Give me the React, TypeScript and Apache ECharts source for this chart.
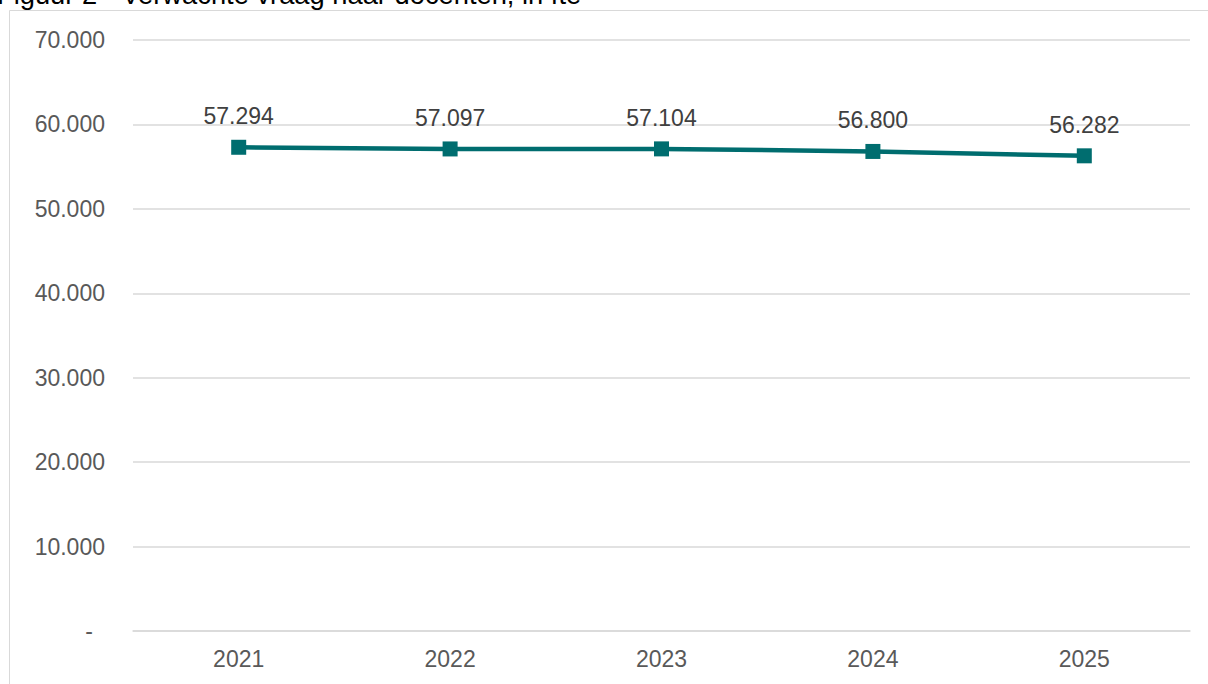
import React, { useEffect, useRef } from "react";
import * as echarts from "echarts";

const title = "Figuur 2 - Verwachte vraag naar docenten, in fte";
const years = ["2021", "2022", "2023", "2024", "2025"];
const demand = [57294, 57097, 57104, 56800, 56282];

const fmt = (v: number) =>
  v === 0 ? "-" : Math.round(v).toString().replace(/\B(?=(\d{3})+(?!\d))/g, ".");

export default function App() {
  const ref = useRef<HTMLDivElement>(null);
  useEffect(() => {
    document.body.style.margin = "0";
    const chart = echarts.init(ref.current!, null, { renderer: "svg" });
    chart.setOption({
      animation: false,
      textStyle: { fontFamily: "Liberation Sans, Arial, sans-serif" },
      graphic: [
        {
          type: "rect",
          shape: { x: 9.5, y: 10.5, width: 1300, height: 800 },
          style: { fill: "none", stroke: "#d9d9d9", lineWidth: 1 },
          silent: true,
        },
        {
          type: "text",
          x: -3,
          y: -19,
          style: {
            text: title,
            fontSize: 27.3,
            fill: "#000",
            fontFamily: "Liberation Sans, Arial, sans-serif",
          },
        },
      ],
      grid: { left: 133, right: 18, top: 40, bottom: 53, containLabel: false },
      xAxis: {
        type: "category",
        data: years,
        boundaryGap: true,
        axisLine: { show: true, lineStyle: { color: "#d9d9d9", width: 1.5 } },
        axisTick: { show: false },
        axisLabel: { color: "#595959", fontSize: 23, margin: 16 },
      },
      yAxis: {
        type: "value",
        min: 0,
        max: 70000,
        interval: 10000,
        axisLine: { show: false },
        axisTick: { show: false },
        splitLine: { lineStyle: { color: "#d9d9d9", width: 1.5 } },
        axisLabel: {
          color: "#595959",
          fontSize: 23,
          margin: 28,
          formatter: (v: number) => (v === 0 ? "{d|-}" : fmt(v)),
          rich: { d: { color: "#595959", fontSize: 23, padding: [0, 12, 0, 0] } },
        },
      },
      series: [
        {
          type: "line",
          data: demand,
          symbol: "rect",
          symbolSize: 15,
          lineStyle: { color: "#006d6f", width: 4.5 },
          itemStyle: { color: "#006d6f" },
          label: {
            show: true,
            position: "top",
            distance: 12,
            color: "#404040",
            fontSize: 23,
            formatter: (p: any) => fmt(p.value),
          },
        },
      ],
    });
    return () => chart.dispose();
  }, []);
  return (
    <div
      ref={ref}
      style={{ position: "absolute", left: 0, top: 0, width: 1208, height: 684 }}
    />
  );
}
